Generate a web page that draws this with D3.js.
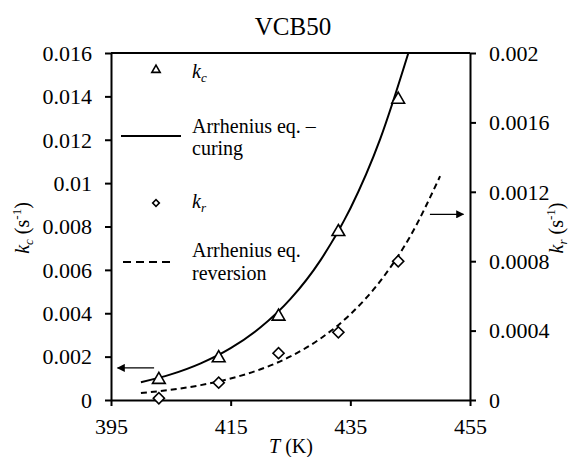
<!DOCTYPE html>
<html>
<head>
<meta charset="utf-8">
<script src="https://cdn.jsdelivr.net/npm/d3@7/dist/d3.min.js"></script>
</head>
<body style="margin:0;background:#fff">
<svg id="chart" width="582" height="457" style="display:block"></svg>
<script>
// Measured rate constants (s^-1) for VCB50
const temps = [403, 413, 423, 433, 443];
const kc = [0.00098, 0.00198, 0.0039, 0.0078, 0.0139];
const kr = [0.00001, 0.0001, 0.00027, 0.00039, 0.0008];

// Arrhenius fit curves, sampled along T
const curingT = [400, 405, 410, 415, 420, 425, 430, 435, 440, 444.7];
const curingK = [0.00082, 0.00118, 0.00169, 0.00239, 0.00335, 0.00466, 0.00644, 0.00883, 0.01204, 0.016];
const reversionT = [400, 405, 410, 415, 420, 425, 430, 435, 440, 445, 450];
const reversionK = [0.00004, 0.0000589, 0.0000857, 0.000124, 0.000177, 0.000251, 0.000354, 0.000494, 0.000685, 0.000943, 0.00129];

// Axis ticks
const xTicks = [395, 415, 435, 455];
const leftTicks = [0, 0.002, 0.004, 0.006, 0.008, 0.01, 0.012, 0.014, 0.016];
const leftLabels = ["0", "0.002", "0.004", "0.006", "0.008", "0.01", "0.012", "0.014", "0.016"];
const rightTicks = [0, 0.0004, 0.0008, 0.0012, 0.0016, 0.002];
const rightLabels = ["0", "0.0004", "0.0008", "0.0012", "0.0016", "0.002"];

const svg = d3.select("#chart");
const L = 111, R = 470, T = 53, B = 400;

const x = d3.scaleLinear().domain([395, 455]).range([L, R]);
const yL = d3.scaleLinear().domain([0, 0.016]).range([B, T]);
const yR = d3.scaleLinear().domain([0, 0.002]).range([B, T]);

const tickFont = 22;

// Axes
const gx = svg.append("g").attr("transform", `translate(0,${B})`)
  .call(d3.axisBottom(x).tickValues(xTicks).tickFormat(d3.format("d")).tickSize(6).tickSizeOuter(0));
const gl = svg.append("g").attr("transform", `translate(${L},0)`)
  .call(d3.axisLeft(yL).tickValues(leftTicks).tickFormat((d, i) => leftLabels[i]).tickSize(6).tickSizeOuter(0));
const gr = svg.append("g").attr("transform", `translate(${R},0)`)
  .call(d3.axisRight(yR).tickValues(rightTicks).tickFormat((d, i) => rightLabels[i]).tickSize(6).tickSizeOuter(0));

[gx, gl, gr].forEach(g => {
  g.attr("font-family", null);
  g.select(".domain").attr("stroke", "#000").attr("stroke-width", 2);
  g.selectAll(".tick line").attr("stroke", "#000").attr("stroke-width", 2);
  g.selectAll(".tick text").attr("fill", "#000").attr("font-size", tickFont);
});
gx.selectAll(".tick text").attr("dy", null).attr("y", 34);
gl.selectAll(".tick text").attr("x", -19).attr("dy", "0.33em");
gr.selectAll(".tick text").attr("x", 19).attr("dy", "0.33em");

// Top frame line
svg.append("line").attr("x1", L).attr("x2", R).attr("y1", T).attr("y2", T)
  .attr("stroke", "#000").attr("stroke-width", 2);

// Clip for curves
svg.append("clipPath").attr("id", "plot").append("rect")
  .attr("x", L).attr("y", T).attr("width", R - L).attr("height", B - T);

const lineL = d3.line().x(d => x(d[0])).y(d => yL(d[1])).curve(d3.curveMonotoneX);
const lineR = d3.line().x(d => x(d[0])).y(d => yR(d[1])).curve(d3.curveMonotoneX);

svg.append("path").attr("clip-path", "url(#plot)")
  .attr("d", lineL(d3.zip(curingT, curingK)))
  .attr("fill", "none").attr("stroke", "#000").attr("stroke-width", 2);

svg.append("path").attr("clip-path", "url(#plot)")
  .attr("d", lineR(d3.zip(reversionT, reversionK)))
  .attr("fill", "none").attr("stroke", "#000").attr("stroke-width", 2)
  .attr("stroke-dasharray", "6,4");

// Markers
const tri = d3.symbol().type(d3.symbolTriangle).size(70);
const dia = d3.symbol().type(d3.symbolSquare).size(62);

svg.append("g").selectAll("path").data(d3.zip(temps, kc)).join("path")
  .attr("d", tri)
  .attr("transform", d => `translate(${x(d[0])},${yL(d[1]) + 1})`)
  .attr("fill", "#fff").attr("stroke", "#000").attr("stroke-width", 1.6);

svg.append("g").selectAll("path").data(d3.zip(temps, kr)).join("path")
  .attr("d", dia)
  .attr("transform", d => `translate(${x(d[0])},${yR(d[1])}) rotate(45)`)
  .attr("fill", "#fff").attr("stroke", "#000").attr("stroke-width", 1.6);

// Axis-pointing arrows
svg.append("defs").append("marker").attr("id", "head")
  .attr("viewBox", "0 0 10 10").attr("refX", 9).attr("refY", 5)
  .attr("markerWidth", 10).attr("markerHeight", 8).attr("markerUnits", "userSpaceOnUse")
  .attr("orient", "auto")
  .append("path").attr("d", "M0,0L10,5L0,10Z").attr("fill", "#000");

svg.append("line")
  .attr("x1", x(402.2)).attr("x2", x(396.1))
  .attr("y1", yL(0.00148)).attr("y2", yL(0.00148))
  .attr("stroke", "#000").attr("stroke-width", 1.3).attr("marker-end", "url(#head)");
svg.append("line")
  .attr("x1", x(448.3)).attr("x2", x(453.9))
  .attr("y1", yR(0.00107)).attr("y2", yR(0.00107))
  .attr("stroke", "#000").attr("stroke-width", 1.3).attr("marker-end", "url(#head)");

// Legend
const lg = svg.append("g").attr("font-size", 20).attr("fill", "#000");
lg.append("path").attr("d", d3.symbol().type(d3.symbolTriangle).size(30))
  .attr("transform", "translate(156,70)").attr("fill", "#fff").attr("stroke", "#000").attr("stroke-width", 1.6);
const t1 = lg.append("text").attr("x", 192).attr("y", 78);
t1.append("tspan").attr("font-style", "italic").text("k");
t1.append("tspan").attr("font-style", "italic").attr("font-size", 13).attr("dy", 4).text("c");

lg.append("line").attr("x1", 121).attr("x2", 181).attr("y1", 136).attr("y2", 136)
  .attr("stroke", "#000").attr("stroke-width", 2);
lg.append("text").attr("x", 192).attr("y", 133).text("Arrhenius eq. \u2013");
lg.append("text").attr("x", 192).attr("y", 155).text("curing");

lg.append("path").attr("d", d3.symbol().type(d3.symbolSquare).size(22))
  .attr("transform", "translate(156,203) rotate(45)").attr("fill", "#fff").attr("stroke", "#000").attr("stroke-width", 1.6);
const t2 = lg.append("text").attr("x", 192).attr("y", 208);
t2.append("tspan").attr("font-style", "italic").text("k");
t2.append("tspan").attr("font-style", "italic").attr("font-size", 13).attr("dy", 4).text("r");

lg.append("line").attr("x1", 123).attr("x2", 175).attr("y1", 262).attr("y2", 262)
  .attr("stroke", "#000").attr("stroke-width", 2).attr("stroke-dasharray", "8,5");
lg.append("text").attr("x", 192).attr("y", 257).text("Arrhenius eq.");
lg.append("text").attr("x", 192).attr("y", 280).text("reversion");

// Title
svg.append("text").attr("x", 293).attr("y", 35).attr("text-anchor", "middle")
  .attr("font-size", 25).text("VCB50");

// Axis titles
function rateLabel(g, sub) {
  g.append("tspan").attr("font-style", "italic").text("k");
  g.append("tspan").attr("font-style", "italic").attr("font-size", 13).attr("dy", 4).text(sub);
  g.append("tspan").attr("dy", -4).text(" (s");
  g.append("tspan").attr("font-size", 13).attr("dy", -8).text("-1");
  g.append("tspan").attr("dy", 8).text(")");
}
const ylab = svg.append("text").attr("font-size", 20).attr("text-anchor", "middle")
  .attr("transform", "translate(29,228) rotate(-90)");
rateLabel(ylab, "c");
const yrlab = svg.append("text").attr("font-size", 20).attr("text-anchor", "middle")
  .attr("transform", "translate(563,228) rotate(-90)");
rateLabel(yrlab, "r");

const xlab = svg.append("text").attr("x", 291).attr("y", 453).attr("text-anchor", "middle").attr("font-size", 20);
xlab.append("tspan").attr("font-style", "italic").text("T");
xlab.append("tspan").text(" (K)");

// Serif face on every label
svg.selectAll("text").style("font-family", '"Liberation Serif"');
</script>
</body>
</html>
